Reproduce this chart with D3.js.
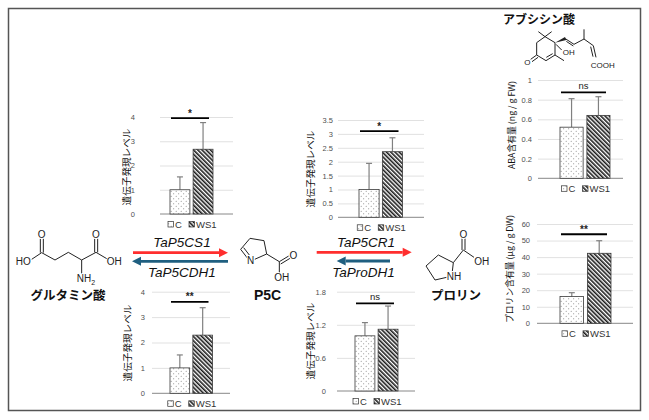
<!DOCTYPE html>
<html>
<head>
<meta charset="utf-8">
<script src="https://cdn.jsdelivr.net/npm/d3@7"></script>
<style>
  body { margin: 0; background: #fff; }
  svg { display: block; font-family: "Liberation Sans", Arial, sans-serif; }
  .jp { font-family: "Noto Sans CJK JP", sans-serif; }
</style>
</head>
<body>
<svg id="fig" width="649" height="420"></svg>
<script>
/* ---- data ---- */
const GROUPS = ["C", "WS1"];

const P5CS1_MEAN  = [1.00, 2.67],  P5CS1_SD  = [0.53, 1.10];
const P5CDH1_MEAN = [1.00, 2.29],  P5CDH1_SD = [0.51, 1.08];
const P5CR1_MEAN  = [1.00, 2.36],  P5CR1_SD  = [0.94, 0.50];
const PRODH1_MEAN = [1.00, 1.12],  PRODH1_SD = [0.24, 0.42];
const ABA_MEAN    = [0.52, 0.64],  ABA_SD    = [0.29, 0.19];
const PRO_MEAN    = [16.2, 42.3],  PRO_SD    = [2.3, 7.6];

const TICKS_P5CS1  = [0, 1, 2, 3, 4];
const TICKS_P5CDH1 = [0, 1, 2, 3, 4];
const TICKS_P5CR1  = [0, 0.5, 1, 1.5, 2, 2.5, 3, 3.5];
const TICKS_PRODH1 = [0, 0.6, 1.2, 1.8];
const TICKS_ABA    = [0, 0.2, 0.4, 0.6, 0.8, 1];
const TICKS_PRO    = [0, 10, 20, 30, 40, 50, 60];

const SIG = ["*", "**", "*", "ns", "ns", "**"];          // panel order below
const SIG_AT = [3.95, 3.6, 3.1, 1.59, 0.875, 53.8];     // height of the bracket, data units

const YLAB_GENE = "遺伝子発現レベル";
const YLAB_ABA  = "ABA含有量 (ng / g FW)";
const YLAB_PRO  = "プロリン含有量 (μg / g DW)";

const GENES = ["TaP5CS1", "TaP5CDH1", "TaP5CR1", "TaProDH1"];
const COMPOUNDS = ["グルタミン酸", "P5C", "プロリン", "アブシシン酸"];

/* ---- layout of the six small bar charts ---- */
const PANELS = [
  { mean: P5CS1_MEAN,  sd: P5CS1_SD,  ticks: TICKS_P5CS1,  ylab: YLAB_GENE, ls: 9.6,
    x0: 160, x1: 233, y0: 214,   y1: 117,   bx0: 170, bx1: 213, tx: 135, lx: 127, ly: 167 },
  { mean: P5CDH1_MEAN, sd: P5CDH1_SD, ticks: TICKS_P5CDH1, ylab: YLAB_GENE, ls: 9.6,
    x0: 152, x1: 230, y0: 393.3, y1: 291.7, bx0: 170, bx1: 212.5, tx: 145, lx: 128, ly: 343 },
  { mean: P5CR1_MEAN,  sd: P5CR1_SD,  ticks: TICKS_P5CR1,  ylab: YLAB_GENE, ls: 9.6,
    x0: 338, x1: 424, y0: 217.3, y1: 120,   bx0: 359, bx1: 402.5, tx: 333, lx: 311, ly: 169 },
  { mean: PRODH1_MEAN, sd: PRODH1_SD, ticks: TICKS_PRODH1, ylab: YLAB_GENE, ls: 9.6,
    x0: 337, x1: 415, y0: 391,   y1: 291.7, bx0: 355, bx1: 398, tx: 326, lx: 310.5, ly: 341 },
  { mean: ABA_MEAN,    sd: ABA_SD,    ticks: TICKS_ABA,    ylab: YLAB_ABA, ls: 8.8,
    x0: 538, x1: 623, y0: 178.3, y1: 80,    bx0: 560, bx1: 610, tx: 532, lx: 511.5, ly: 125 },
  { mean: PRO_MEAN,    sd: PRO_SD,    ticks: TICKS_PRO,    ylab: YLAB_PRO, ls: 8.8,
    x0: 537, x1: 633, y0: 323.3, y1: 224,   bx0: 560, bx1: 611, tx: 530, lx: 510, ly: 269 }
];

const svg = d3.select("#fig");

/* patterns: dotted control bars, hatched WS1 bars */
const defs = svg.append("defs");
const dots = defs.append("pattern").attr("id", "dots").attr("patternUnits", "userSpaceOnUse")
  .attr("width", 5).attr("height", 5);
dots.append("rect").attr("width", 5).attr("height", 5).attr("fill", "#fff");
dots.append("circle").attr("cx", 1.2).attr("cy", 1.2).attr("r", 0.5).attr("fill", "#777");
dots.append("circle").attr("cx", 3.7).attr("cy", 3.7).attr("r", 0.5).attr("fill", "#777");
const hatch = defs.append("pattern").attr("id", "hatch").attr("patternUnits", "userSpaceOnUse")
  .attr("width", 3).attr("height", 3).attr("patternTransform", "rotate(-45)");
hatch.append("rect").attr("width", 3).attr("height", 3).attr("fill", "#fff");
hatch.append("rect").attr("width", 1.6).attr("height", 3).attr("fill", "#1a1a1a");
const FILLS = ["url(#dots)", "url(#hatch)"];

// outer frame
svg.append("rect").attr("x", 8.5).attr("y", 8.5).attr("width", 632).attr("height", 402)
  .attr("fill", "none").attr("stroke", "#555").attr("stroke-width", 1.5);

PANELS.forEach((p, i) => drawPanel(p, SIG[i], SIG_AT[i]));

function drawPanel(p, sig, sigAt){
  const g = svg.append("g");
  const y = d3.scaleLinear().domain([0, d3.max(p.ticks)]).range([p.y0, p.y1]);
  const x = d3.scaleBand().domain(GROUPS).range([p.bx0, p.bx1]).paddingInner(0.14);
  const bw = x.bandwidth();

  // gridlines
  const grid = g.append("g").attr("transform", `translate(${p.x0},0)`)
    .call(d3.axisRight(y).tickValues(p.ticks.slice(1)).tickSize(p.x1 - p.x0).tickFormat(""));
  grid.select(".domain").remove();
  grid.selectAll(".tick line").attr("stroke", "#d9d9d9").attr("stroke-width", 0.8);

  // tick labels
  const ax = g.append("g").attr("transform", `translate(${p.x0},0)`)
    .call(d3.axisLeft(y).tickValues(p.ticks).tickSize(0).tickPadding(p.x0 - p.tx).tickFormat(d => String(d)));
  ax.select(".domain").remove();
  ax.selectAll("text").attr("font-size", 7.5).attr("fill", "#505050")
    .attr("font-family", "'Liberation Sans', Arial, sans-serif");

  // baseline
  g.append("line").attr("x1", p.x0).attr("x2", p.x1).attr("y1", y(0)).attr("y2", y(0))
    .attr("stroke", "#888").attr("stroke-width", 1);

  const rows = GROUPS.map((k, j) => ({ k, m: p.mean[j], s: p.sd[j], f: FILLS[j] }));

  // error bars (upper only)
  g.selectAll("line.err").data(rows).join("line").attr("class", "err")
    .attr("x1", d => x(d.k) + bw / 2).attr("x2", d => x(d.k) + bw / 2)
    .attr("y1", d => y(d.m)).attr("y2", d => y(d.m + d.s))
    .attr("stroke", "#808080").attr("stroke-width", 1.2);
  g.selectAll("line.cap").data(rows).join("line").attr("class", "cap")
    .attr("x1", d => x(d.k) + bw / 2 - 3).attr("x2", d => x(d.k) + bw / 2 + 3)
    .attr("y1", d => y(d.m + d.s)).attr("y2", d => y(d.m + d.s))
    .attr("stroke", "#808080").attr("stroke-width", 1.2);

  // bars
  g.selectAll("rect.bar").data(rows).join("rect").attr("class", "bar")
    .attr("x", d => x(d.k)).attr("width", bw)
    .attr("y", d => y(d.m)).attr("height", d => y(0) - y(d.m))
    .attr("fill", d => d.f).attr("stroke", "#3a3a3a").attr("stroke-width", 0.8);

  // significance bracket
  const sx0 = x("C") + 1, sx1 = x("WS1") + bw - 4;
  g.append("line").attr("x1", sx0).attr("x2", sx1).attr("y1", y(sigAt)).attr("y2", y(sigAt))
    .attr("stroke", "#000").attr("stroke-width", 1.8);
  g.append("text").attr("x", (sx0 + sx1) / 2).attr("y", y(sigAt) - (sig === "ns" ? 3 : 1.5))
    .attr("text-anchor", "middle").attr("font-size", sig === "ns" ? 9.5 : 10)
    .attr("font-weight", sig === "ns" ? "normal" : "bold").attr("fill", "#222").text(sig);

  // legend
  const cx = (p.bx0 + p.bx1) / 2, ly = p.y0 + 10.5;
  const leg = g.append("g").attr("font-size", 9.5).attr("fill", "#333");
  [[cx - 23.5, "C"], [cx - 2.5, "WS1"]].forEach(([lx, t], j) => {
    leg.append("rect").attr("x", lx).attr("y", ly - 3).attr("width", 5.5).attr("height", 5.5)
      .attr("fill", FILLS[j]).attr("stroke", "#333").attr("stroke-width", 0.7);
    leg.append("text").attr("x", lx + 7).attr("y", ly).attr("dy", "0.35em").text(t);
  });

  // y axis title
  g.append("text").attr("class", "jp")
    .attr("transform", `translate(${p.lx},${p.ly}) rotate(-90)`)
    .attr("text-anchor", "middle").attr("dy", "0.35em")
    .attr("font-size", p.ls).attr("fill", "#111").text(p.ylab);
}

/* ---- reaction arrows ---- */
const RED = "#ff2e2e", BLUE = "#1f5f80";
function arrow(xTail, xHead, yy, color){
  const dir = Math.sign(xHead - xTail), L = 9, h = 4.5;
  svg.append("line").attr("x1", xTail).attr("x2", xHead - dir * L).attr("y1", yy).attr("y2", yy)
    .attr("stroke", color).attr("stroke-width", 2.8);
  svg.append("path").attr("fill", color)
    .attr("d", `M${xHead},${yy} L${xHead - dir * L},${yy - h} L${xHead - dir * L},${yy + h} Z`);
}
arrow(133, 228, 252.7, RED);
arrow(228, 132, 261.3, BLUE);
arrow(316.7, 411.7, 252.3, RED);
arrow(390, 336.7, 261, BLUE);

const geneText = (t, xx, yy) => svg.append("text").attr("x", xx).attr("y", yy)
  .attr("text-anchor", "middle").attr("font-size", 13.5).attr("font-style", "italic")
  .attr("fill", "#111").text(t);
geneText(GENES[0], 182, 246.7);
geneText(GENES[1], 182, 277.3);
geneText(GENES[2], 366, 246.7);
geneText(GENES[3], 363.5, 277.3);

/* ---- compound names ---- */
svg.append("text").attr("class", "jp").attr("x", 68).attr("y", 299.5).attr("text-anchor", "middle")
  .attr("font-size", 12.5).attr("font-weight", "bold").attr("fill", "#111").text(COMPOUNDS[0]);
svg.append("text").attr("x", 267.5).attr("y", 300).attr("text-anchor", "middle")
  .attr("font-size", 14).attr("font-weight", "bold").attr("fill", "#111").text(COMPOUNDS[1]);
svg.append("text").attr("class", "jp").attr("x", 456).attr("y", 299.5).attr("text-anchor", "middle")
  .attr("font-size", 12.5).attr("font-weight", "bold").attr("fill", "#111").text(COMPOUNDS[2]);
svg.append("text").attr("class", "jp").attr("x", 503).attr("y", 23.5).attr("text-anchor", "start")
  .attr("font-size", 12).attr("font-weight", "bold").attr("fill", "#111").text(COMPOUNDS[3]);

/* ---- skeletal structures (drawn at 3x, then scaled down) ---- */
const GLU = { ox: 0, oy: 200,
  bonds: [[95,178,125,158],[121,158,121,116],[130,158,130,116],[125,158,165,180],[165,180,205,157],
          [205,157,245,180],[245,180,288,157],[284,157,284,116],[293,157,293,116],[288,157,322,177],
          [245,180,245,222]],
  atoms: [[70,183,"HO"],[125,102,"O"],[288,102,"O"],[343,183,"OH"],[258,236,"NH","2"]] };
const P5C = { ox: 0, oy: 200,
  bonds: [[722,148,750,115],[750,115,792,122],[792,122,800,162],[800,162,764,178],[742,174,722,148],
          [748,165,731,143],[800,162,838,185],[838,185,866,168],[842,192,870,175],[838,185,838,220]],
  atoms: [[752,182,"N"],[880,165,"O"],[845,232,"OH"]] };
const PRO = { ox: 300, oy: 200,
  bonds: [[378,198,415,165],[415,165,460,188],[460,188,457,214],[440,232,405,240],[405,240,378,198],
          [460,188,490,150],[486,150,486,115],[495,150,495,115],[490,150,522,172]],
  atoms: [[462,228,"NH"],[490,103,"O"],[545,183,"OH"]] };
const ABA = { ox: 490, oy: 0,
  bonds: [[165,110,195,128],[195,128,195,165],[195,165,168,182],[188,161,169,172],[168,182,140,165],
          [140,165,140,128],[140,128,165,110],[140,165,122,178],[144,172,126,185],[165,110,145,95],
          [165,110,185,95],[198,133,215,150],[195,165,222,182],[226,116,252,133],[229,124,250,138],
          [252,133,282,117],[282,117,282,88],[282,117,310,137],[310,137,318,172],[302,140,309,170]],
  atoms: [[112,188,"O"],[236,158,"OH"],[338,197,"COOH"]],
  wedge: "M195,128 L225,111 L229,120 Z" };

[GLU, P5C, PRO, ABA].forEach(m => {
  const g = svg.append("g").attr("transform", `translate(${m.ox},${m.oy}) scale(${1 / 3})`);
  g.selectAll("line").data(m.bonds).join("line")
    .attr("x1", d => d[0]).attr("y1", d => d[1]).attr("x2", d => d[2]).attr("y2", d => d[3])
    .attr("stroke", "#222").attr("stroke-width", 3);
  if (m.wedge) g.append("path").attr("d", m.wedge).attr("fill", "#222");
  const fs = m === ABA ? 24 : 30;
  const t = g.selectAll("text").data(m.atoms).join("text")
    .attr("x", d => d[0]).attr("y", d => d[1]).attr("dy", "0.35em").attr("text-anchor", "middle")
    .attr("font-size", fs).attr("fill", "#222")
    .attr("stroke", "#fff").attr("stroke-width", 6).attr("paint-order", "stroke");
  t.append("tspan").text(d => d[2]);
  t.filter(d => d[3]).append("tspan").attr("font-size", fs * 0.7).attr("dy", 8).text(d => d[3]);
});
</script>
</body>
</html>
